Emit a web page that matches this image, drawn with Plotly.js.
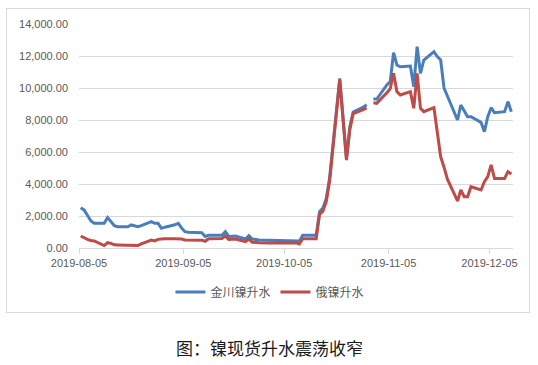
<!DOCTYPE html>
<html>
<head>
<meta charset="utf-8">
<script src="https://cdn.plot.ly/plotly-3.0.1.min.js"></script>
<style>
  html, body { margin: 0; padding: 0; background: #fff; }
  #wrap { position: relative; width: 538px; height: 365px; }
  #chart { position: absolute; left: 0; top: 0; width: 538px; height: 365px; }
  #frame { position: absolute; left: 6px; top: 8px; width: 522px; height: 303px;
           border: 1px solid #d9d9d9; pointer-events: none; }
</style>
</head>
<body>
<div id="wrap">
  <div id="chart"></div>
  <div id="frame"></div>
</div>
<script>
// Trading dates
var dates = [
  "2019-08-05","2019-08-06","2019-08-07","2019-08-08","2019-08-09",
  "2019-08-12","2019-08-13","2019-08-14","2019-08-15","2019-08-16",
  "2019-08-19","2019-08-20","2019-08-21","2019-08-22","2019-08-23",
  "2019-08-26","2019-08-27","2019-08-28","2019-08-29","2019-08-30",
  "2019-09-02","2019-09-03","2019-09-04","2019-09-05","2019-09-06",
  "2019-09-09","2019-09-10","2019-09-11","2019-09-12",
  "2019-09-16","2019-09-17","2019-09-18","2019-09-19","2019-09-20",
  "2019-09-23","2019-09-24","2019-09-25","2019-09-26","2019-09-27",
  "2019-09-30",
  "2019-10-08","2019-10-09","2019-10-10","2019-10-11",
  "2019-10-14","2019-10-15","2019-10-16","2019-10-17","2019-10-18",
  "2019-10-21","2019-10-22","2019-10-23","2019-10-24","2019-10-25",
  "2019-10-28","2019-10-29","2019-10-30","2019-10-31","2019-11-01",
  "2019-11-04","2019-11-05","2019-11-06","2019-11-07","2019-11-08",
  "2019-11-11","2019-11-12","2019-11-13","2019-11-14","2019-11-15",
  "2019-11-18","2019-11-19","2019-11-20","2019-11-21","2019-11-22",
  "2019-11-25","2019-11-26","2019-11-27","2019-11-28","2019-11-29",
  "2019-12-02","2019-12-03","2019-12-04","2019-12-05","2019-12-06",
  "2019-12-09","2019-12-10","2019-12-11"
];

// 金川镍升水
var jinchuan = [
  2520,2380,2050,1700,1540,
  1540,1900,1650,1400,1330,
  1330,1440,1380,1330,1400,
  1650,1540,1540,1230,1300,
  1450,1540,1250,1020,980,
  980,950,720,800,
  800,1020,720,720,750,
  560,770,560,520,500,
  480,
  460,430,800,800,
  800,2270,2500,3100,4400,
  10600,8100,5600,7600,8500,
  8800,8950,null,9310,9310,
  10190,10400,12210,11440,11330,
  11375,10080,12580,10920,11750,
  12270,11960,11750,10000,9500,
  8000,8940,8600,8210,8210,
  7850,7270,8210,8770,8460,
  8520,9150,8520
];

// 俄镍升水
var russian = [
  750,620,540,470,440,
  150,330,290,200,190,
  190,190,170,150,260,
  500,440,540,560,580,
  580,580,560,500,500,
  500,490,420,580,
  600,750,540,550,560,
  400,560,360,330,330,
  320,
  320,250,580,580,
  580,2100,2300,2900,4200,
  10500,8000,5500,7400,8400,
  8650,8750,null,9080,9040,
  9700,9950,10920,9770,9560,
  9770,8730,10920,8730,8520,
  8770,7300,5700,5050,4300,
  2940,3625,3210,3210,3830,
  3625,4150,4460,5190,4350,
  4350,4770,4625
];

var seriesNames = ["金川镍升水", "俄镍升水"];
var tickDates = ["2019-08-05","2019-09-05","2019-10-05","2019-11-05","2019-12-05"];
var yTicks = [0,2000,4000,6000,8000,10000,12000,14000];
var caption = "图：镍现货升水震荡收窄";

// Excel date axis places points mid-day
var xs = dates.map(function(d){ return d + " 12:00"; });

var traces = [
  { x: xs, y: jinchuan, name: seriesNames[0], type: "scatter", mode: "lines",
    connectgaps: false, line: { color: "#4a7ebb", width: 3 } },
  { x: xs, y: russian, name: seriesNames[1], type: "scatter", mode: "lines",
    connectgaps: false, line: { color: "#be4b48", width: 3 } }
];

var tickFont = { family: "Liberation Sans, Arial, sans-serif", size: 11, color: "#595959" };

var layout = {
  width: 538, height: 365,
  margin: { l: 79, r: 25, t: 24, b: 117 },
  paper_bgcolor: "#fff", plot_bgcolor: "#fff",
  showlegend: true,
  legend: {
    orientation: "h", x: 0.44, xanchor: "center", y: -0.196, yanchor: "middle",
    font: { family: "Noto Sans CJK SC, sans-serif", size: 12, color: "#595959" },
    bgcolor: "rgba(0,0,0,0)"
  },
  xaxis: {
    type: "date",
    range: ["2019-08-05", "2019-12-12"],
    tickvals: tickDates, tickformat: "%Y-%m-%d",
    tickfont: tickFont,
    showgrid: false, zeroline: false,
    showline: true, linecolor: "#d9d9d9", linewidth: 1,
    ticks: "outside", ticklen: 5, tickcolor: "#d9d9d9", tickwidth: 1
  },
  yaxis: {
    range: [0, 14000], tickvals: yTicks, tickformat: ",.2f",
    tickfont: tickFont,
    showgrid: true, gridcolor: "#d9d9d9", gridwidth: 1,
    zeroline: false, showline: false, ticks: "",
    ticklabelstandoff: 10
  },
  annotations: [{
    text: caption, xref: "paper", yref: "paper",
    x: 0.439, y: -0.446, xanchor: "center", yanchor: "middle",
    showarrow: false,
    font: { family: "Noto Sans CJK SC, sans-serif", size: 17, color: "#1a1a1a" }
  }]
};

Plotly.newPlot("chart", traces, layout, { displayModeBar: false, staticPlot: true });
</script>
</body>
</html>
